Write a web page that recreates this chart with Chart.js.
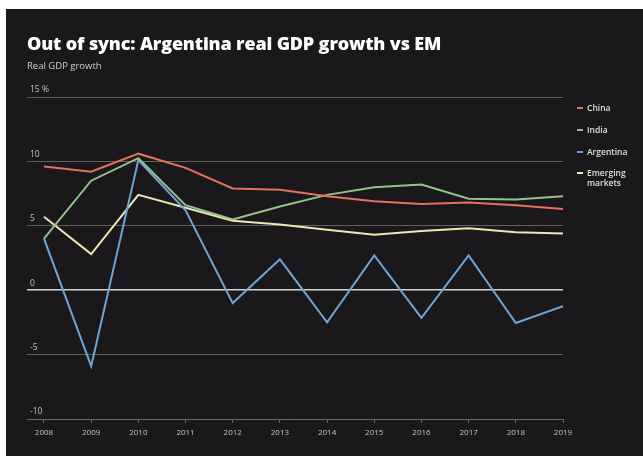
<!DOCTYPE html>
<html>
<head>
<meta charset="utf-8">
<script src="https://cdn.jsdelivr.net/npm/chart.js@4.4.0/dist/chart.umd.min.js"></script>
<style>
  body { margin: 0; background: #fff; width: 643px; height: 456px; overflow: hidden; position: relative; font-family: "Open Sans", sans-serif; }
  #panel { position: absolute; left: 6px; top: 9px; width: 637px; height: 447px; background: #1a181b; }
  #title { position: absolute; left: 27px; top: 31px; color: #fff; font-weight: 800; font-size: 18px; letter-spacing: -0.15px; white-space: nowrap; }
  #sub { position: absolute; left: 27px; top: 59px; color: #cfcfcf; font-size: 9.5px; }
  #chart { position: absolute; left: 0; top: 0; }
  .leg { position: absolute; left: 577px; color: #e0e0e0; font-size: 8.5px; font-weight: 600; line-height: 10px; }
  .leg i { position: absolute; left: 0; top: 4px; width: 6px; height: 2px; }
  .leg span { display: block; margin-left: 10px; }
</style>
</head>
<body>
<div id="panel"></div>
<canvas id="chart" width="643" height="456"></canvas>
<div id="title">Out of sync: Argentina real GDP growth vs EM</div>
<div id="sub">Real GDP growth</div>
<div id="legend"></div>
<script>
// vuodet ja sarjat
const years = [2008, 2009, 2010, 2011, 2012, 2013, 2014, 2015, 2016, 2017, 2018, 2019];
const china = [9.6, 9.2, 10.6, 9.5, 7.9, 7.8, 7.3, 6.9, 6.7, 6.8, 6.6, 6.3];
const india = [4.0, 8.5, 10.25, 6.6, 5.5, 6.5, 7.4, 8.0, 8.2, 7.1, 7.05, 7.3];
const argentina = [4.0, -5.9, 10.1, 6.2, -1.0, 2.4, -2.5, 2.7, -2.15, 2.7, -2.55, -1.25];
const emerging = [5.7, 2.8, 7.4, 6.4, 5.4, 5.1, 4.7, 4.3, 4.6, 4.8, 4.5, 4.4];
const yTicks = [-10, -5, 0, 5, 10, 15];

const names = ["China", "India", "Argentina", ["Emerging", "markets"]];
const colors = ["#e6715c", "#93c38d", "#6ea5d6", "#ebe8b2"];
const series = [china, india, argentina, emerging];

// legenda html:nä
const legTops = [103, 125, 147, 168];
let html = "";
names.forEach(function (n, i) {
  const txt = Array.isArray(n) ? n.join("<br>") : n;
  html += '<div class="leg" style="top:' + legTops[i] + 'px"><i style="background:' + colors[i] + '"></i><span>' + txt + '</span></div>';
});
document.getElementById("legend").innerHTML = html;

const datasets = series.map(function (s, i) {
  return {
    label: Array.isArray(names[i]) ? names[i].join(" ") : names[i],
    data: s.map(function (v, k) { return { x: years[k], y: v }; }),
    borderColor: colors[i],
    borderWidth: 2,
    pointRadius: 0,
    tension: 0,
    fill: false
  };
});

const ctx = document.getElementById("chart").getContext("2d");
new Chart(ctx, {
  type: "line",
  data: { datasets: datasets },
  options: {
    responsive: false,
    animation: false,
    layout: { padding: { left: 27, right: 80, top: 97, bottom: 0 } },
    plugins: { legend: { display: false }, tooltip: { enabled: false } },
    scales: {
      x: {
        type: "linear",
        min: 2007.64,
        max: 2019,
        afterBuildTicks: function (scale) {
          scale.ticks = years.map(function (y) { return { value: y }; });
        },
        afterFit: function (scale) { scale.height = 37; },
        grid: { drawOnChartArea: false, drawTicks: true, tickLength: 4, color: "#6a6a6a" },
        border: { display: true, color: "#6a6a6a", width: 1 },
        ticks: {
          color: "#c4c4c4",
          font: { family: "Open Sans", size: 8 },
          padding: 5,
          maxRotation: 0,
          callback: function (v) { return String(v); }
        }
      },
      y: {
        min: -10,
        max: 15,
        afterBuildTicks: function (scale) {
          scale.ticks = yTicks.map(function (v) { return { value: v }; });
        },
        afterFit: function (scale) { scale.width = 0; },
        border: { display: false },
        grid: {
          drawTicks: false,
          color: function (c) { return c.tick && c.tick.value === 0 ? "#d4d4d4" : "#606060"; },
          lineWidth: function (c) { return c.tick && c.tick.value === 0 ? 1.5 : 1; }
        },
        ticks: {
          mirror: true,
          padding: 3,
          labelOffset: -7,
          color: "#c4c4c4",
          font: { family: "Open Sans", size: 8.5 },
          callback: function (v) { return v === 15 ? "15 %" : String(v); }
        }
      }
    }
  }
});
</script>
</body>
</html>
